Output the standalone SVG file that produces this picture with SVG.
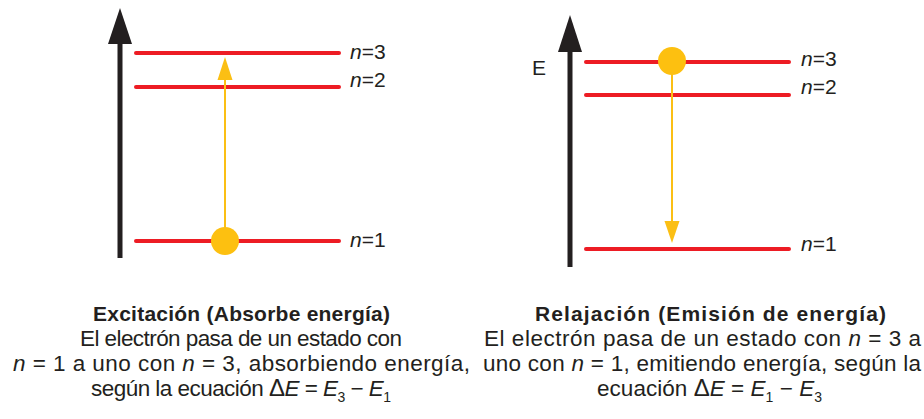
<svg xmlns="http://www.w3.org/2000/svg" width="924" height="419" viewBox="0 0 924 419">
<defs>
<style>
.axis{stroke:#231f20;stroke-width:5;fill:none}
.lvl{stroke:#ed1c24;stroke-width:4;stroke-linecap:round;fill:none}
.tr{stroke:#fbbf14;stroke-width:2;fill:none}
.e{fill:#fdc010}
text{font-family:"Liberation Sans",Arial,sans-serif;fill:#231f20}
.lab{font-size:21px}
.t{font-size:21px;font-weight:bold;text-anchor:middle}
.b{font-size:22.5px;text-anchor:middle}
.i{font-style:italic}
.d{font-size:24px}
.s{font-size:14px}
</style>
</defs>
<g id="excitacion">
<g id="axis1"><line class="axis" x1="120" y1="40" x2="120" y2="258"/><polygon points="120,8 108,44 132,44" fill="#231f20"/></g>
<g id="n3a"><line class="lvl" x1="136" y1="53" x2="339" y2="53"/><text class="lab" x="350" y="59"><tspan class="i">n</tspan>=3</text></g>
<g id="n2a"><line class="lvl" x1="136" y1="87" x2="339" y2="87"/><text class="lab" x="350" y="87"><tspan class="i">n</tspan>=2</text></g>
<g id="n1a"><line class="lvl" x1="136" y1="241" x2="339" y2="241"/><text class="lab" x="350" y="247"><tspan class="i">n</tspan>=1</text></g>
<g id="e1"><circle class="e" cx="225" cy="241" r="14"/></g>
</g>
<g id="relajacion">
<g id="axis2"><line class="axis" x1="570" y1="48" x2="570" y2="267"/><polygon points="570,15 558,52 582,52" fill="#231f20"/><text class="lab" x="532" y="75">E</text></g>
<g id="n3b"><line class="lvl" x1="586" y1="62" x2="789" y2="62"/><text class="lab" x="801" y="66"><tspan class="i">n</tspan>=3</text></g>
<g id="n2b"><line class="lvl" x1="586" y1="95" x2="789" y2="95"/><text class="lab" x="801" y="94"><tspan class="i">n</tspan>=2</text></g>
<g id="n1b"><line class="lvl" x1="586" y1="249" x2="789" y2="249"/><text class="lab" x="801" y="251"><tspan class="i">n</tspan>=1</text></g>
<g id="e2"><circle class="e" cx="672" cy="61" r="14"/></g>
</g>
<g id="connectors">
<line class="tr" x1="225" y1="230" x2="225" y2="78"/><polygon points="225,57 217.5,80 232.5,80" fill="#fbbf14"/>
<line class="tr" x1="672" y1="72" x2="672" y2="224"/><polygon points="672,243 664.5,221 679.5,221" fill="#fbbf14"/>
</g>
<g id="caption-left">
<text class="t" x="241.5" y="321" textLength="297" lengthAdjust="spacing">Excitación (Absorbe energía)</text>
<text class="b" x="241" y="346" textLength="322" lengthAdjust="spacing">El electrón pasa de un estado con</text>
<text class="b" x="241.5" y="371" textLength="457" lengthAdjust="spacing"><tspan class="i">n</tspan> = 1 a uno con <tspan class="i">n</tspan> = 3, absorbiendo energía,</text>
<text class="b" x="241" y="396" textLength="300" lengthAdjust="spacing">según la ecuación <tspan class="d">Δ</tspan><tspan class="i">E</tspan> = <tspan class="i">E</tspan><tspan class="s" dy="6">3</tspan><tspan dy="-6"> − </tspan><tspan class="i">E</tspan><tspan class="s" dy="6">1</tspan></text>
</g>
<g id="caption-right">
<text class="t" x="710.5" y="321" textLength="351" lengthAdjust="spacing">Relajación (Emisión de energía)</text>
<text class="b" x="702.5" y="346" textLength="437" lengthAdjust="spacing">El electrón pasa de un estado con <tspan class="i">n</tspan> = 3 a</text>
<text class="b" x="702" y="371" textLength="438" lengthAdjust="spacing">uno con <tspan class="i">n</tspan> = 1, emitiendo energía, según la</text>
<text class="b" x="709.5" y="396" textLength="225" lengthAdjust="spacing">ecuación <tspan class="d">Δ</tspan><tspan class="i">E</tspan> = <tspan class="i">E</tspan><tspan class="s" dy="6">1</tspan><tspan dy="-6"> − </tspan><tspan class="i">E</tspan><tspan class="s" dy="6">3</tspan></text>
</g>
</svg>
